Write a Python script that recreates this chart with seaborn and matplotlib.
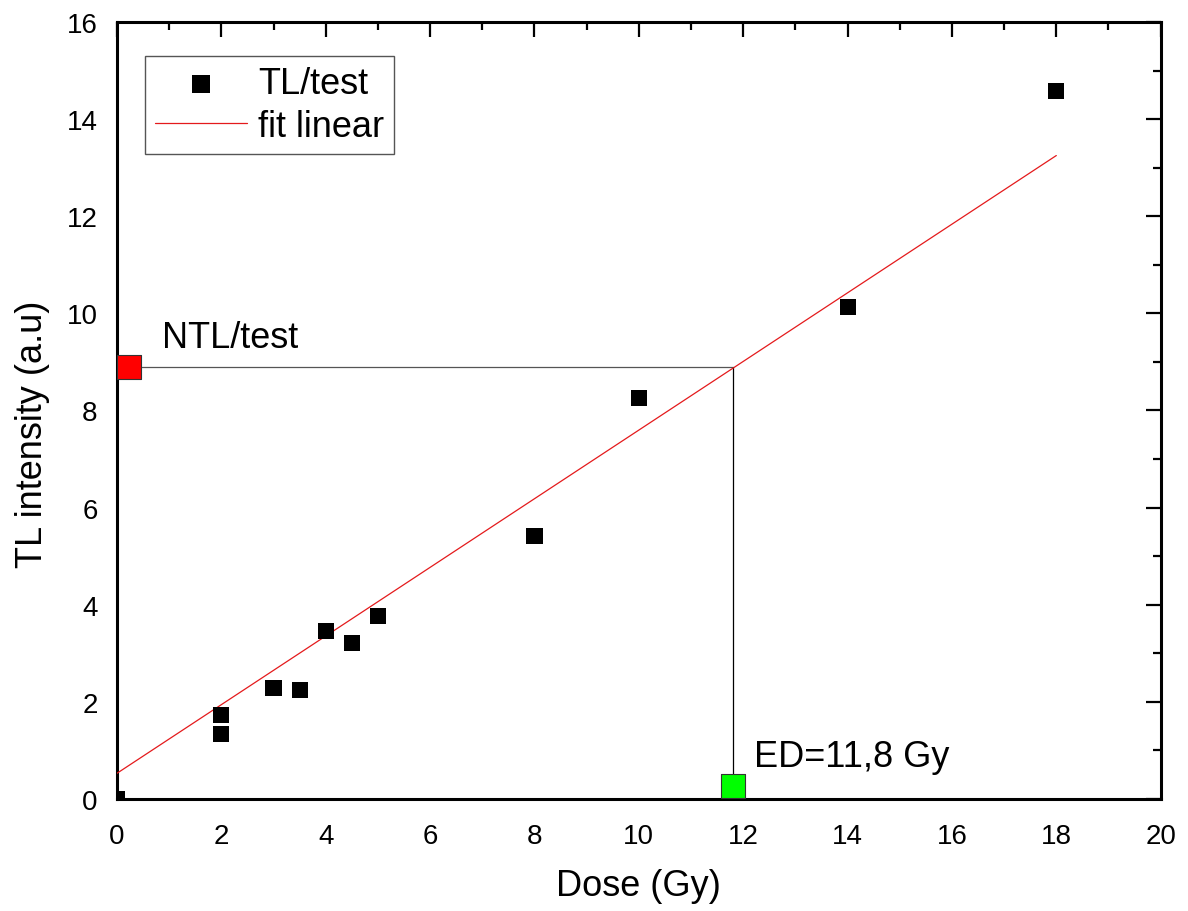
import matplotlib
matplotlib.use("Agg")
import matplotlib.pyplot as plt
import seaborn as sns
import pandas as pd
from matplotlib.ticker import MultipleLocator

# Measured TL/test ratios against regeneration dose
dose_gy = [0, 2, 2, 3, 3.5, 4, 4.5, 5, 8, 10, 14, 18]
tl_test = [0.0, 1.33, 1.73, 2.29, 2.24, 3.46, 3.21, 3.77, 5.42, 8.26, 10.13, 14.58]

# Linear fit endpoints
fit_dose = [0, 18]
fit_tl = [0.53, 13.25]

# Natural signal and equivalent dose
ntl_value = 8.9
ed_value = 11.8
ntl_marker_dose = 0.23
ed_marker_tl = 0.27

sns.set_theme(style="white")
plt.rcParams["font.family"] = ["Liberation Sans", "DejaVu Sans"]
plt.rcParams["text.color"] = "black"
plt.rcParams["axes.labelcolor"] = "black"

fig = plt.figure(figsize=(11.88, 9.12), dpi=100)
ax = fig.add_axes([0.0985, 0.1228, 0.8785, 0.852])

data = pd.DataFrame({"Dose (Gy)": dose_gy, "TL": tl_test})
fit = pd.DataFrame({"Dose (Gy)": fit_dose, "TL": fit_tl})

# Projection lines from NTL onto the fit and down to the dose axis
ax.plot([0, ed_value], [ntl_value, ntl_value], color="#555555", lw=0.9, zorder=2)
ax.plot([ed_value, ed_value], [ntl_value, 0], color="black", lw=0.9, zorder=2)

sns.lineplot(data=fit, x="Dose (Gy)", y="TL", ax=ax, color="#e41a1c", lw=0.9,
             label="fit linear", zorder=3)
sns.scatterplot(data=data, x="Dose (Gy)", y="TL", ax=ax, marker="s", s=135,
                color="black", edgecolor="none", label="TL/test", zorder=4)

ax.scatter([ntl_marker_dose], [ntl_value], marker="s", s=290, color="#ff0000",
           edgecolor="#333333", linewidth=0.8, zorder=5, clip_on=False)
ax.scatter([ed_value], [ed_marker_tl], marker="s", s=290, color="#00ff00",
           edgecolor="#333333", linewidth=0.8, zorder=5, clip_on=False)

ax.text(0.86, 9.5, "NTL/test", fontsize=26, va="center", ha="left", color="black")
ax.text(12.2, 0.88, "ED=11,8 Gy", fontsize=26, va="center", ha="left", color="black")

ax.set_xlim(0, 20)
ax.set_ylim(0, 16)
ax.xaxis.set_major_locator(MultipleLocator(2))
ax.xaxis.set_minor_locator(MultipleLocator(1))
ax.yaxis.set_major_locator(MultipleLocator(2))
ax.yaxis.set_minor_locator(MultipleLocator(1))

ax.set_xlabel("Dose (Gy)", fontsize=26, labelpad=14, color="black")
ax.set_ylabel("TL intensity (a.u)", fontsize=26, labelpad=12, y=0.471, color="black")

for sp in ax.spines.values():
    sp.set_visible(True)
    sp.set_color("black")
    sp.set_linewidth(2.2)

ax.tick_params(which="both", direction="in", top=True, right=True,
               labeltop=False, labelright=False, colors="black", width=1.6)
ax.tick_params(axis="x", which="major", length=11, labelsize=20, pad=17)
ax.tick_params(axis="y", which="major", length=11, labelsize=20, pad=14)
ax.tick_params(which="minor", length=6)

handles, labels = ax.get_legend_handles_labels()
order = [labels.index("TL/test"), labels.index("fit linear")]
leg = ax.legend([handles[i] for i in order], [labels[i] for i in order],
                loc="upper left", bbox_to_anchor=(0.0268, 0.956),
                borderaxespad=0, fontsize=26, frameon=True, fancybox=False,
                framealpha=1, edgecolor="#555555", handlelength=2.55,
                handletextpad=0.3, borderpad=0.28, labelspacing=0.2,
                markerscale=1.1, labelcolor="black")
leg.get_frame().set_linewidth(1.0)

fig.savefig("out.png", dpi=100)
